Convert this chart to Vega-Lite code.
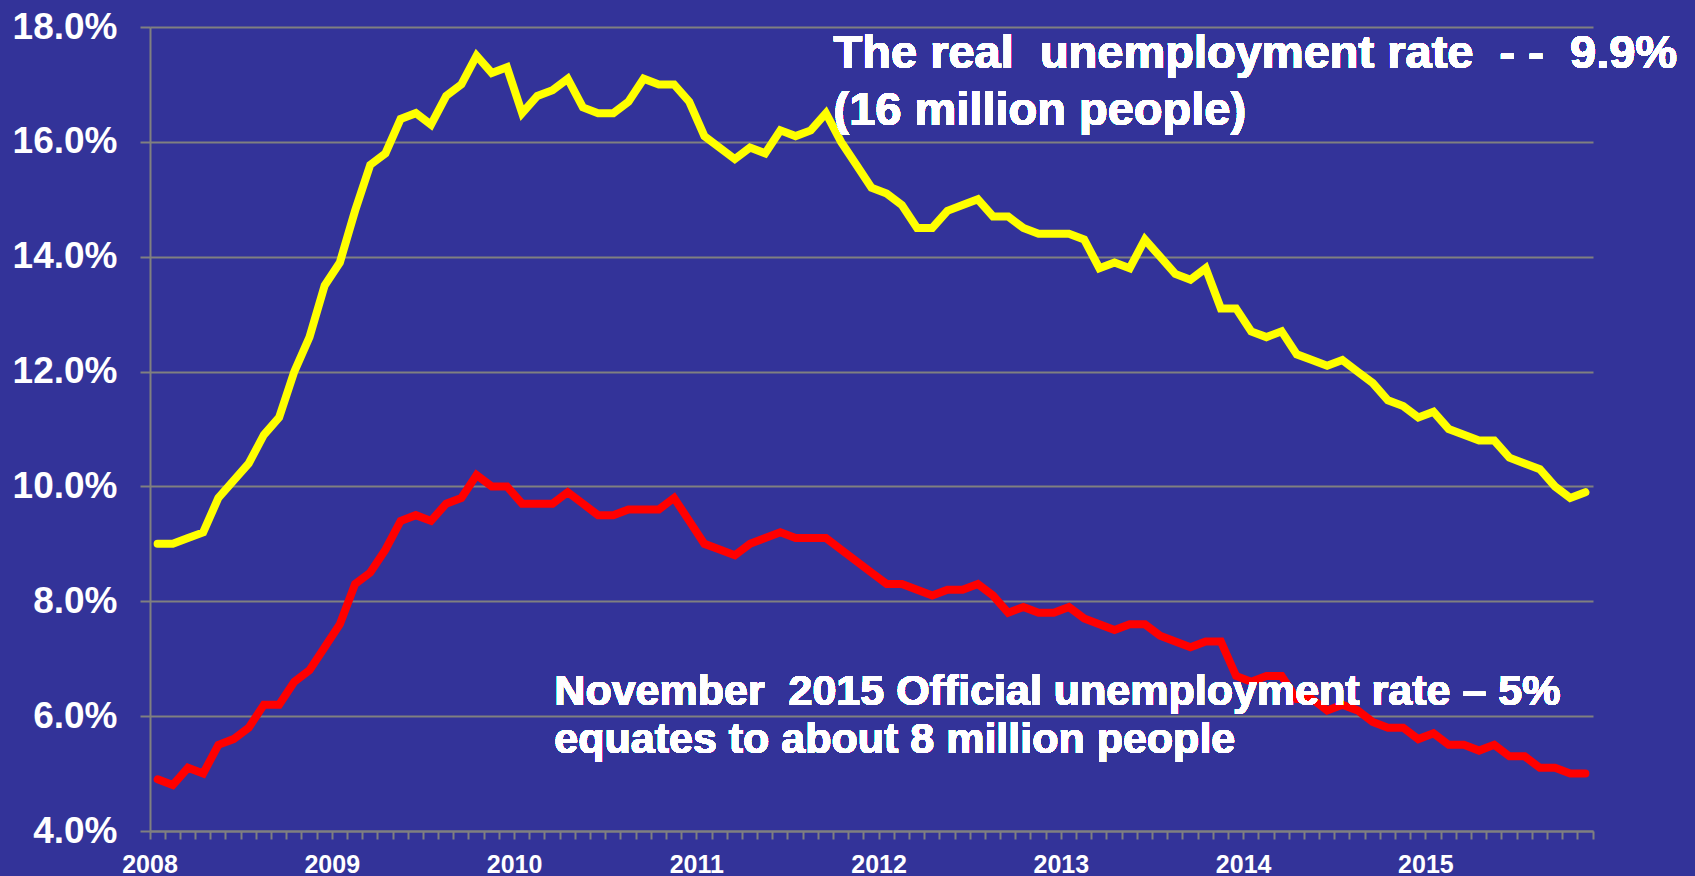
{
  "$schema": "https://vega.github.io/schema/vega-lite/v6.json",
  "width": 1443,
  "height": 804,
  "autosize": {"type": "none"},
  "padding": {"left": 150, "top": 27, "right": 102, "bottom": 45},
  "background": "#333399",
  "config": {
    "view": {"stroke": null},
    "font": "Liberation Sans"
  },
  "data": {
    "values": [
      {"month": "2008-01", "real": 9.0, "official": 4.9},
      {"month": "2008-02", "real": 9.0, "official": 4.8},
      {"month": "2008-03", "real": 9.1, "official": 5.1},
      {"month": "2008-04", "real": 9.2, "official": 5.0},
      {"month": "2008-05", "real": 9.8, "official": 5.5},
      {"month": "2008-06", "real": 10.1, "official": 5.6},
      {"month": "2008-07", "real": 10.4, "official": 5.8},
      {"month": "2008-08", "real": 10.9, "official": 6.2},
      {"month": "2008-09", "real": 11.2, "official": 6.2},
      {"month": "2008-10", "real": 12.0, "official": 6.6},
      {"month": "2008-11", "real": 12.6, "official": 6.8},
      {"month": "2008-12", "real": 13.5, "official": 7.2},
      {"month": "2009-01", "real": 13.9, "official": 7.6},
      {"month": "2009-02", "real": 14.8, "official": 8.3},
      {"month": "2009-03", "real": 15.6, "official": 8.5},
      {"month": "2009-04", "real": 15.8, "official": 8.9},
      {"month": "2009-05", "real": 16.4, "official": 9.4},
      {"month": "2009-06", "real": 16.5, "official": 9.5},
      {"month": "2009-07", "real": 16.3, "official": 9.4},
      {"month": "2009-08", "real": 16.8, "official": 9.7},
      {"month": "2009-09", "real": 17.0, "official": 9.8},
      {"month": "2009-10", "real": 17.5, "official": 10.2},
      {"month": "2009-11", "real": 17.2, "official": 10.0},
      {"month": "2009-12", "real": 17.3, "official": 10.0},
      {"month": "2010-01", "real": 16.5, "official": 9.7},
      {"month": "2010-02", "real": 16.8, "official": 9.7},
      {"month": "2010-03", "real": 16.9, "official": 9.7},
      {"month": "2010-04", "real": 17.1, "official": 9.9},
      {"month": "2010-05", "real": 16.6, "official": 9.7},
      {"month": "2010-06", "real": 16.5, "official": 9.5},
      {"month": "2010-07", "real": 16.5, "official": 9.5},
      {"month": "2010-08", "real": 16.7, "official": 9.6},
      {"month": "2010-09", "real": 17.1, "official": 9.6},
      {"month": "2010-10", "real": 17.0, "official": 9.6},
      {"month": "2010-11", "real": 17.0, "official": 9.8},
      {"month": "2010-12", "real": 16.7, "official": 9.4},
      {"month": "2011-01", "real": 16.1, "official": 9.0},
      {"month": "2011-02", "real": 15.9, "official": 8.9},
      {"month": "2011-03", "real": 15.7, "official": 8.8},
      {"month": "2011-04", "real": 15.9, "official": 9.0},
      {"month": "2011-05", "real": 15.8, "official": 9.1},
      {"month": "2011-06", "real": 16.2, "official": 9.2},
      {"month": "2011-07", "real": 16.1, "official": 9.1},
      {"month": "2011-08", "real": 16.2, "official": 9.1},
      {"month": "2011-09", "real": 16.5, "official": 9.1},
      {"month": "2011-10", "real": 16.0, "official": 8.9},
      {"month": "2011-11", "real": 15.6, "official": 8.7},
      {"month": "2011-12", "real": 15.2, "official": 8.5},
      {"month": "2012-01", "real": 15.1, "official": 8.3},
      {"month": "2012-02", "real": 14.9, "official": 8.3},
      {"month": "2012-03", "real": 14.5, "official": 8.2},
      {"month": "2012-04", "real": 14.5, "official": 8.1},
      {"month": "2012-05", "real": 14.8, "official": 8.2},
      {"month": "2012-06", "real": 14.9, "official": 8.2},
      {"month": "2012-07", "real": 15.0, "official": 8.3},
      {"month": "2012-08", "real": 14.7, "official": 8.1},
      {"month": "2012-09", "real": 14.7, "official": 7.8},
      {"month": "2012-10", "real": 14.5, "official": 7.9},
      {"month": "2012-11", "real": 14.4, "official": 7.8},
      {"month": "2012-12", "real": 14.4, "official": 7.8},
      {"month": "2013-01", "real": 14.4, "official": 7.9},
      {"month": "2013-02", "real": 14.3, "official": 7.7},
      {"month": "2013-03", "real": 13.8, "official": 7.6},
      {"month": "2013-04", "real": 13.9, "official": 7.5},
      {"month": "2013-05", "real": 13.8, "official": 7.6},
      {"month": "2013-06", "real": 14.3, "official": 7.6},
      {"month": "2013-07", "real": 14.0, "official": 7.4},
      {"month": "2013-08", "real": 13.7, "official": 7.3},
      {"month": "2013-09", "real": 13.6, "official": 7.2},
      {"month": "2013-10", "real": 13.8, "official": 7.3},
      {"month": "2013-11", "real": 13.1, "official": 7.3},
      {"month": "2013-12", "real": 13.1, "official": 6.7},
      {"month": "2014-01", "real": 12.7, "official": 6.6},
      {"month": "2014-02", "real": 12.6, "official": 6.7},
      {"month": "2014-03", "real": 12.7, "official": 6.7},
      {"month": "2014-04", "real": 12.3, "official": 6.3},
      {"month": "2014-05", "real": 12.2, "official": 6.3},
      {"month": "2014-06", "real": 12.1, "official": 6.1},
      {"month": "2014-07", "real": 12.2, "official": 6.2},
      {"month": "2014-08", "real": 12.0, "official": 6.1},
      {"month": "2014-09", "real": 11.8, "official": 5.9},
      {"month": "2014-10", "real": 11.5, "official": 5.8},
      {"month": "2014-11", "real": 11.4, "official": 5.8},
      {"month": "2014-12", "real": 11.2, "official": 5.6},
      {"month": "2015-01", "real": 11.3, "official": 5.7},
      {"month": "2015-02", "real": 11.0, "official": 5.5},
      {"month": "2015-03", "real": 10.9, "official": 5.5},
      {"month": "2015-04", "real": 10.8, "official": 5.4},
      {"month": "2015-05", "real": 10.8, "official": 5.5},
      {"month": "2015-06", "real": 10.5, "official": 5.3},
      {"month": "2015-07", "real": 10.4, "official": 5.3},
      {"month": "2015-08", "real": 10.3, "official": 5.1},
      {"month": "2015-09", "real": 10.0, "official": 5.1},
      {"month": "2015-10", "real": 9.8, "official": 5.0},
      {"month": "2015-11", "real": 9.9, "official": 5.0}
    ]
  },
  "encoding": {
    "x": {
      "field": "month",
      "type": "ordinal",
      "sort": null,
      "scale": {"type": "band", "paddingInner": 0, "paddingOuter": 0},
      "axis": {
        "title": null,
        "bandPosition": 1,
        "tickExtra": true,
        "labelOffset": -7.6,
        "labelAngle": 0,
        "labelOverlap": false,
        "labelBound": false,
        "labelExpr": "substring(datum.value, 5, 7) == '01' ? substring(datum.value, 0, 4) : ''",
        "labelFont": "Liberation Sans",
        "labelFontSize": 25,
        "labelFontWeight": "bold",
        "labelColor": "#ffffff",
        "labelPadding": 13,
        "domainColor": "#808080",
        "domainWidth": 2,
        "tickColor": "#808080",
        "tickWidth": 2,
        "tickSize": 8,
        "grid": false
      }
    }
  },
  "layer": [
    {
      "mark": {"type": "line", "color": "#ffff00", "strokeWidth": 8, "strokeCap": "round", "strokeJoin": "miter"},
      "encoding": {
        "x": {"field": "month", "type": "ordinal", "sort": null, "bandPosition": 0.5},
        "y": {
          "field": "real",
          "type": "quantitative",
          "scale": {"domain": [4, 18], "nice": false, "zero": false},
          "axis": {
            "title": null,
            "values": [4, 6, 8, 10, 12, 14, 16, 18],
            "labelExpr": "format(datum.value, '.1f') + '%'",
            "labelFont": "Liberation Sans",
            "labelFontSize": 37,
            "labelFontWeight": "bold",
            "labelColor": "#ffffff",
            "labelPadding": 23,
            "domainColor": "#808080",
            "domainWidth": 2,
            "tickColor": "#808080",
            "tickWidth": 2,
            "tickSize": 10,
            "grid": true,
            "gridColor": "#808080",
            "gridWidth": 2
          }
        }
      }
    },
    {
      "mark": {"type": "line", "color": "#ff0000", "strokeWidth": 8, "strokeCap": "round", "strokeJoin": "miter"},
      "encoding": {
        "x": {"field": "month", "type": "ordinal", "sort": null, "bandPosition": 0.5},
        "y": {"field": "official", "type": "quantitative"}
      }
    },
    {
      "mark": {"type": "text", "align": "left", "baseline": "alphabetic", "font": "Liberation Sans", "fontSize": 47, "fontWeight": "bold", "color": "#ffffff"},
      "encoding": {
        "x": {"datum": "2011-10", "type": "ordinal", "bandPosition": 0.0},
        "y": {"datum": 17.28, "type": "quantitative"},
        "text": {"value": "The real\u00a0 unemployment rate\u00a0 - -\u00a0 9.9%"}
      }
    },
    {
      "mark": {"type": "text", "align": "left", "baseline": "alphabetic", "font": "Liberation Sans", "fontSize": 47, "fontWeight": "bold", "color": "#ffffff"},
      "encoding": {
        "x": {"datum": "2011-10", "type": "ordinal", "bandPosition": 0.0},
        "y": {"datum": 16.29, "type": "quantitative"},
        "text": {"value": "(16 million people)"}
      }
    },
    {
      "mark": {"type": "text", "align": "left", "baseline": "alphabetic", "font": "Liberation Sans", "fontSize": 43, "fontWeight": "bold", "color": "#ffffff"},
      "encoding": {
        "x": {"datum": "2010-03", "type": "ordinal", "bandPosition": 0.62},
        "y": {"datum": 6.19, "type": "quantitative"},
        "text": {"value": "November\u00a0 2015 Official unemployment rate \u2013 5%"}
      }
    },
    {
      "mark": {"type": "text", "align": "left", "baseline": "alphabetic", "font": "Liberation Sans", "fontSize": 43, "fontWeight": "bold", "color": "#ffffff"},
      "encoding": {
        "x": {"datum": "2010-03", "type": "ordinal", "bandPosition": 0.62},
        "y": {"datum": 5.35, "type": "quantitative"},
        "text": {"value": "equates to about 8 million people"}
      }
    }
  ]
}
